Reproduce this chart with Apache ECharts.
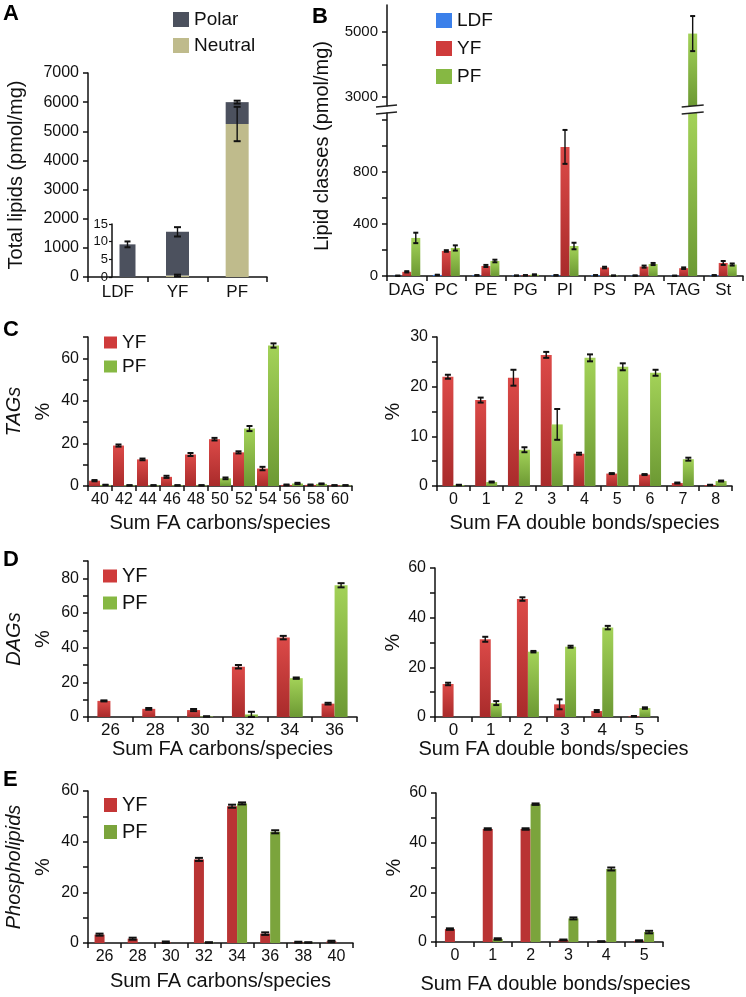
<!DOCTYPE html>
<html><head><meta charset="utf-8">
<script src="https://cdn.jsdelivr.net/npm/echarts@6/dist/echarts.min.js"></script>
<style>html,body{margin:0;padding:0;background:#fff}#c{width:746px;height:997px}</style>
</head><body><div id="c"></div><script>
// ---------------- DATA ----------------
// Panel A
const aCats = ['LDF', 'YF', 'PF'];
const aPolar = [1120, 1500, 750];
const aNeutral = [0, 50, 5250];
const aPolarErr = [100, 160, 50];
const aNeutralErr = [0, 30, 590];
const aTicks = [0, 1000, 2000, 3000, 4000, 5000, 6000, 7000];
const aInsetTicks = [0, 5, 10, 15];
// Panel B
const bCats = ['DAG', 'PC', 'PE', 'PG', 'PI', 'PS', 'PA', 'TAG', 'St'];
const bLDF = [2, 8, 5, 3, 5, 5, 3, 2, 5];
const bYF = [32, 192, 77, 5, 990, 65, 72, 60, 100];
const bPF = [292, 215, 115, 10, 230, 3, 92, 4950, 88];
const bLDFErr = [1, 2, 2, 1, 2, 2, 1, 1, 2];
const bYFErr = [5, 6, 8, 2, 130, 6, 8, 6, 15];
const bPFErr = [40, 20, 10, 3, 25, 1, 8, 540, 8];
const bLowTicks = [0, 200, 400, 600, 800, 1000, 1200];
const bLowLabels = [0, 400, 800];
const bHighTicks = [3000, 4000, 5000];
const bHighLabels = [3000, 5000];
// Panel C (TAGs)
const cCarbCats = ['40', '42', '44', '46', '48', '50', '52', '54', '56', '58', '60'];
const cCarbYF = [2.5, 19, 12.5, 4.3, 14.8, 22, 15.8, 8.2, 0.5, 0.5, 0.3];
const cCarbPF = [0.5, 0.3, 0.3, 0.3, 0.3, 3.6, 27, 66, 1.2, 1.0, 0.3];
const cCarbYFErr = [0.3, 0.5, 0.4, 0.5, 0.7, 0.6, 0.5, 0.8, 0.2, 0.2, 0.1];
const cCarbPFErr = [0.1, 0.1, 0.1, 0.1, 0.1, 0.4, 1.2, 1.0, 0.3, 0.2, 0.1];
const cDbCats = ['0', '1', '2', '3', '4', '5', '6', '7', '8'];
const cDbYF = [22, 17.3, 21.8, 26.4, 6.5, 2.5, 2.3, 0.6, 0.2];
const cDbPF = [0.2, 0.8, 7.3, 12.4, 25.8, 24, 22.8, 5.4, 1.0];
const cDbYFErr = [0.4, 0.5, 1.6, 0.6, 0.2, 0.1, 0.1, 0.1, 0.05];
const cDbPFErr = [0.05, 0.1, 0.5, 3.1, 0.7, 0.7, 0.6, 0.3, 0.1];
// Panel D (DAGs)
const dCarbCats = ['26', '28', '30', '32', '34', '36'];
const dCarbYF = [9.3, 4.7, 4, 29, 45.8, 7.7];
const dCarbPF = [0, 0, 0.3, 1.5, 22.4, 76];
const dCarbYFErr = [0.3, 0.5, 0.6, 1, 1, 0.5];
const dCarbPFErr = [0, 0, 0.1, 1.5, 0.4, 1.2];
const dDbCats = ['0', '1', '2', '3', '4', '5'];
const dDbYF = [13.3, 31.3, 47.5, 5.1, 2.4, 0.3];
const dDbPF = [0, 5.6, 26.3, 28.3, 36, 3.6];
const dDbYFErr = [0.5, 1, 0.7, 2, 0.4, 0.1];
const dDbPFErr = [0, 0.8, 0.3, 0.4, 0.7, 0.3];
// Panel E (Phospholipids)
const eCarbCats = ['26', '28', '30', '32', '34', '36', '38', '40'];
const eCarbYF = [3.3, 1.7, 0.3, 33, 54, 3.7, 0.3, 0.6];
const eCarbPF = [0, 0, 0, 0.2, 55.1, 43.9, 0.2, 0];
const eCarbYFErr = [0.4, 0.4, 0.3, 0.6, 0.6, 0.5, 0.2, 0.3];
const eCarbPFErr = [0, 0, 0, 0.1, 0.4, 0.6, 0.1, 0];
const eDbCats = ['0', '1', '2', '3', '4', '5'];
const eDbYF = [5.2, 45.5, 45.5, 0.8, 0.2, 0.5];
const eDbPF = [0, 1.2, 55.5, 9.5, 29.4, 4];
const eDbYFErr = [0.3, 0.3, 0.3, 0.2, 0.1, 0.2];
const eDbPFErr = [0, 0.3, 0.3, 0.4, 0.6, 0.5];
const pctTicks60 = [0, 10, 20, 30, 40, 50, 60];
const pctLabels60 = [0, 20, 40, 60];

// ---------------- STYLE ----------------
const FF = '"Liberation Sans", Arial, Helvetica, sans-serif';
const INK = '#111';
const G = echarts.graphic.LinearGradient;
const redGrad = new G(0, 0, 0, 1, [{offset: 0, color: '#dc4a48'}, {offset: 1, color: '#a92b2b'}]);
const greenGrad = new G(0, 0, 0, 1, [{offset: 0, color: '#a3d258'}, {offset: 1, color: '#6c9933'}]);
const redFlat = '#b93434';
const greenFlat = '#7ba43c';
const blue = '#3b80ea';
const polarCol = '#4c515e', neutralCol = '#bfbb8c';
const plain = v => String(v);

const axisLine = {show: true, onZero: false, lineStyle: {color: INK, width: 1.5}};
const tick = {show: true, inside: false, length: 5, lineStyle: {color: INK, width: 1.5}};

function yAx(gi, min, max, ticks, labels, extra, fs) {
  return Object.assign({
    type: 'value', gridIndex: gi, min: min, max: max, splitLine: {show: false},
    axisLine: axisLine, axisTick: Object.assign({}, tick, {customValues: ticks}),
    axisLabel: {customValues: labels, formatter: plain, fontSize: fs || 16, color: INK, margin: 9, fontFamily: FF}
  }, extra || {});
}
function xAx(gi, cats, extra, fs, margin) {
  return Object.assign({
    type: 'category', gridIndex: gi, data: cats, splitLine: {show: false},
    axisLine: axisLine, axisTick: tick,
    axisLabel: {fontSize: fs || 16, color: INK, margin: margin || 6, fontFamily: FF, interval: 0}
  }, extra || {});
}
function xName(name, gap, padLeft) {
  return {name: name, nameLocation: 'middle', nameGap: gap,
    nameTextStyle: {fontSize: 20, color: INK, fontFamily: FF, padding: [0, 0, 0, padLeft || 0]}};
}
function yNameRich(label, gap) {
  return {name: '{t|' + label + '}\n{p|%}', nameLocation: 'middle', nameGap: gap,
    nameTextStyle: {rich: {
      t: {fontStyle: 'italic', fontSize: 20, lineHeight: 29, color: INK, fontFamily: FF},
      p: {fontSize: 20, lineHeight: 29, color: INK, fontFamily: FF}}}};
}
function yNamePct(gap) {
  return {name: '%', nameLocation: 'middle', nameGap: gap,
    nameTextStyle: {fontSize: 20, color: INK, fontFamily: FF}};
}
function bar(name, xi, data, color, bw, extra) {
  return Object.assign({type: 'bar', name: name, xAxisIndex: xi, yAxisIndex: xi, data: data,
    barWidth: bw, barGap: '0%', itemStyle: {color: color}, silent: true}, extra || {});
}
// error bars drawn through the axes' own coordinate conversion
function errSeries(xi, vals, errs, offPx, capW, base) {
  const data = [];
  vals.forEach((v, i) => {
    if (v === null || v === '-' || !(errs[i] > 0)) return;
    data.push([i, v + (base ? base[i] : 0), errs[i]]);
  });
  return {
    type: 'custom', xAxisIndex: xi, yAxisIndex: xi, z: 10, silent: true, data: data,
    renderItem: function (params, api) {
      const i = api.value(0), v = api.value(1), e = api.value(2);
      const top = api.coord([i, v + e]);
      const bot = api.coord([i, Math.max(v - e, 0)]);
      const x = top[0] + offPx, cw = capW / 2;
      const st = {stroke: '#111', lineWidth: 1.4};
      const cs = {stroke: '#111', lineWidth: 2};
      return {type: 'group', children: [
        {type: 'line', shape: {x1: x, y1: top[1], x2: x, y2: bot[1]}, style: st},
        {type: 'line', shape: {x1: x - cw, y1: top[1], x2: x + cw, y2: top[1]}, style: cs},
        {type: 'line', shape: {x1: x - cw, y1: bot[1], x2: x + cw, y2: bot[1]}, style: cs}
      ]};
    }
  };
}

// A: the LDF bar sits beside the inset axis, on its own (hidden-axis) grid
const isLDF = i => aCats[i] === 'LDF';
const mainOnly = arr => arr.map((v, i) => isLDF(i) ? '-' : v);
const ldfOnly = arr => arr.filter((v, i) => isLDF(i));

// B split between upper (broken) and lower axis
const bUpperMin = 2720, bUpperMax = 5830, bLowerMax = 1250;
const upperBars = arr => arr.map(v => v >= bUpperMin ? v : '-');
const lowerOnly = vals => vals.map(v => v < bUpperMin ? v : null);
const upperOnly = vals => vals.map(v => v >= bUpperMin ? v : null);

const grids = [
  {left: 88, top: 73, width: 179, height: 204},     // 0 A
  {left: 112, top: 224, width: 10, height: 53},     // 1 A inset axis
  {left: 387, top: 5, width: 356, height: 101},     // 2 B upper
  {left: 387, top: 113, width: 356, height: 163},   // 3 B lower
  {left: 88, top: 337, width: 264, height: 149},    // 4 C left
  {left: 437, top: 337, width: 295, height: 149},   // 5 C right
  {left: 88, top: 561, width: 269, height: 156},    // 6 D left
  {left: 435, top: 568, width: 223, height: 149},   // 7 D right
  {left: 88, top: 791, width: 265, height: 152},    // 8 E left
  {left: 436, top: 793, width: 227, height: 149},   // 9 E right
  {left: 112, top: 73, width: 31, height: 204}      // 10 A LDF bar
];

const xAxes = [
  xAx(0, aCats, null, 17, 7),
  {type: 'category', gridIndex: 1, data: aCats, show: false},
  {type: 'category', gridIndex: 2, data: bCats, show: false},
  xAx(3, bCats, null, 17, 6),
  xAx(4, cCarbCats, xName('Sum FA carbons/species', 27)),
  xAx(5, cDbCats, xName('Sum FA double bonds/species', 27, 0)),
  xAx(6, dCarbCats, xName('Sum FA carbons/species', 19), 17, 5),
  xAx(7, dDbCats, xName('Sum FA double bonds/species', 19, 14), 17, 5),
  xAx(8, eCarbCats, xName('Sum FA carbons/species', 28)),
  xAx(9, eDbCats, xName('Sum FA double bonds/species', 32, 12)),
  {type: 'category', gridIndex: 10, data: aCats.filter((c, i) => isLDF(i)), show: false}
];

const yAxes = [
  yAx(0, 0, 7000, aTicks, aTicks, {name: 'Total lipids (pmol/mg)', nameLocation: 'middle', nameGap: 62,
    nameTextStyle: {fontSize: 20, color: INK, fontFamily: FF}}),
  yAx(1, 0, 15, aInsetTicks, aInsetTicks, {axisTick: {show: true, length: 3, lineStyle: {color: INK, width: 1.2}, customValues: aInsetTicks},
    axisLabel: {customValues: aInsetTicks, formatter: plain, fontSize: 13, color: INK, margin: 4, fontFamily: FF}}),
  yAx(2, bUpperMin, bUpperMax, bHighTicks, bHighLabels, null, 15),
  yAx(3, 0, bLowerMax, bLowTicks, bLowLabels, null, 15),
  yAx(4, 0, 70, [0, 10, 20, 30, 40, 50, 60, 70], [0, 20, 40, 60], yNameRich('TAGs', 30)),
  yAx(5, 0, 30, [0, 5, 10, 15, 20, 25, 30], [0, 10, 20, 30], yNamePct(34)),
  yAx(6, 0, 90, [0, 10, 20, 30, 40, 50, 60, 70, 80, 90], [0, 20, 40, 60, 80], yNameRich('DAGs', 30)),
  yAx(7, 0, 60, pctTicks60, pctLabels60, yNamePct(32)),
  yAx(8, 0, 60, pctTicks60, pctLabels60, yNameRich('Phospholipids', 30)),
  yAx(9, 0, 60, pctTicks60, pctLabels60, yNamePct(32)),
  {type: 'value', gridIndex: 10, min: 0, max: 7000, show: false, splitLine: {show: false}}
];

const BW_B = 9;
const series = [
  // A
  bar('Neutral', 0, mainOnly(aNeutral), neutralCol, 23, {stack: 'a'}),
  bar('Polar', 0, mainOnly(aPolar), polarCol, 23, {stack: 'a'}),
  errSeries(0, mainOnly(aNeutral), aNeutralErr, 0, 7),
  errSeries(0, mainOnly(aPolar), aPolarErr, 0, 7, aNeutral),
  bar('Neutral', 10, ldfOnly(aNeutral), neutralCol, 16, {stack: 'l'}),
  bar('Polar', 10, ldfOnly(aPolar), polarCol, 16, {stack: 'l'}),
  errSeries(10, ldfOnly(aPolar), ldfOnly(aPolarErr), 0, 6, ldfOnly(aNeutral)),
  // B lower
  bar('LDF', 3, bLDF, blue, BW_B),
  bar('YF', 3, bYF, redGrad, BW_B),
  bar('PF', 3, bPF, greenGrad, BW_B),
  // B upper (broken part)
  bar('LDF', 2, upperBars(bLDF), blue, BW_B),
  bar('YF', 2, upperBars(bYF), redGrad, BW_B),
  bar('PF', 2, upperBars(bPF), greenGrad, BW_B),
  errSeries(3, lowerOnly(bLDF), bLDFErr, -BW_B, 5),
  errSeries(3, lowerOnly(bYF), bYFErr, 0, 5),
  errSeries(3, lowerOnly(bPF), bPFErr, BW_B, 5),
  errSeries(2, upperOnly(bPF), bPFErr, BW_B, 5),
  {
    type: 'custom', xAxisIndex: 3, yAxisIndex: 3, z: 20, silent: true,
    data: [[bCats.indexOf('TAG'), bLowerMax]],
    renderItem: function (params, api) {
      const cs = params.coordSys;
      const p = api.coord([api.value(0), api.value(1)]);
      const y1 = cs.y, y0 = cs.y - 7, xb = p[0] + BW_B;
      const st = {stroke: '#222', lineWidth: 1.4};
      const mk = (xa, xc, y) => ({type: 'line', shape: {x1: xa, y1: y + 1, x2: xc, y2: y - 1}, style: st});
      return {type: 'group', children: [
        mk(cs.x - 11, cs.x + 10, y0), mk(cs.x - 11, cs.x + 10, y1),
        mk(xb - 11, xb + 11, y0), mk(xb - 11, xb + 11, y1)
      ]};
    }
  },
  // C
  bar('YF', 4, cCarbYF, redGrad, 11), bar('PF', 4, cCarbPF, greenGrad, 11),
  errSeries(4, cCarbYF, cCarbYFErr, -5.5, 6), errSeries(4, cCarbPF, cCarbPFErr, 5.5, 6),
  bar('YF', 5, cDbYF, redGrad, 11), bar('PF', 5, cDbPF, greenGrad, 11),
  errSeries(5, cDbYF, cDbYFErr, -5.5, 6), errSeries(5, cDbPF, cDbPFErr, 5.5, 6),
  // D
  bar('YF', 6, dCarbYF, redGrad, 13), bar('PF', 6, dCarbPF, greenGrad, 13),
  errSeries(6, dCarbYF, dCarbYFErr, -6.5, 7), errSeries(6, dCarbPF, dCarbPFErr, 6.5, 7),
  bar('YF', 7, dDbYF, redGrad, 11), bar('PF', 7, dDbPF, greenGrad, 11),
  errSeries(7, dDbYF, dDbYFErr, -5.5, 6), errSeries(7, dDbPF, dDbPFErr, 5.5, 6),
  // E
  bar('YF', 8, eCarbYF, redFlat, 10), bar('PF', 8, eCarbPF, greenFlat, 10),
  errSeries(8, eCarbYF, eCarbYFErr, -5, 8), errSeries(8, eCarbPF, eCarbPFErr, 5, 8),
  bar('YF', 9, eDbYF, redFlat, 10), bar('PF', 9, eDbPF, greenFlat, 10),
  errSeries(9, eDbYF, eDbYFErr, -5, 8), errSeries(9, eDbPF, eDbPFErr, 5, 8)
];

function legend(left, top, names, colors, iw, ih, gap, fs) {
  return {
    left: left, top: top, orient: 'vertical', padding: 0, itemGap: gap, itemWidth: iw, itemHeight: ih,
    selectedMode: false, icon: 'rect',
    textStyle: {fontSize: fs, color: INK, fontFamily: FF},
    data: names.map((n, i) => ({name: n, itemStyle: {color: colors[i]}, icon: 'rect'}))
  };
}
const legends = [
  legend(173, 10, ['Polar', 'Neutral'], [polarCol, neutralCol], 16, 15, 7, 19),
  legend(436, 11, ['LDF', 'YF', 'PF'], [blue, '#cf3b3b', '#86b843'], 16, 15, 9, 19),
  legend(104, 333, ['YF', 'PF'], ['#cf3b3b', '#86b843'], 13, 12, 5, 19),
  legend(103, 566, ['YF', 'PF'], ['#cf3b3b', '#86b843'], 14, 13, 7, 20),
  legend(104, 795, ['YF', 'PF'], ['#c43636', '#7ba43c'], 13, 14, 7, 20)
];

const letter = (t, x, y) => ({type: 'text', left: x, top: y, style: {text: t, font: 'bold 22px ' + FF, fill: '#000'}});
const graphics = [
  letter('A', 3, 3), letter('B', 312, 6), letter('C', 3, 319), letter('D', 3, 549), letter('E', 3, 769),
  {type: 'text', x: 322, y: 146, rotation: Math.PI / 2,
   style: {text: 'Lipid classes (pmol/mg)', font: '20px ' + FF, fill: INK, align: 'center', verticalAlign: 'middle'}}
];

const chart = echarts.init(document.getElementById('c'), null, {renderer: 'canvas'});
chart.setOption({
  animation: false,
  backgroundColor: '#fff',
  textStyle: {fontFamily: FF, color: INK},
  grid: grids,
  xAxis: xAxes,
  yAxis: yAxes,
  legend: legends,
  series: series,
  graphic: graphics
});
</script></body></html>
